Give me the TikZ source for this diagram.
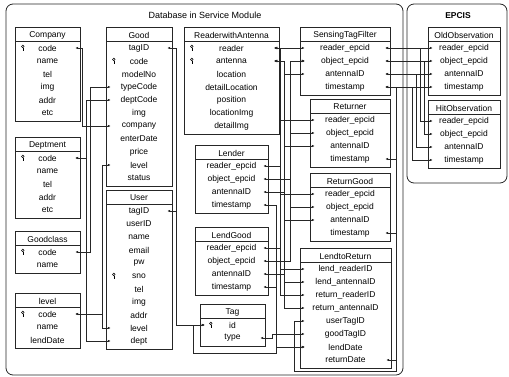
\documentclass[tikz,border=0pt]{standalone}
\usepackage{fontspec}
\setmainfont{Liberation Sans}
\usetikzlibrary{arrows.meta}

\tikzset{
  tblbox/.style={draw=black!85, line width=0.8pt},
  tbltext/.style={font=\fontsize{8.5}{10}\selectfont, inner sep=0pt},
  tblrow/.style={tbltext, minimum height=9pt},
  link/.style={draw=black!85, line width=0.65pt, {Latex[length=3pt,width=2.6pt]}-{Latex[length=3pt,width=2.6pt]}},
  halflink/.style={draw=black!85, line width=0.65pt, {Latex[length=3pt,width=2.6pt]}-},
  frame/.style={draw=black!85, line width=0.8pt, rounded corners=7pt},
  pkey/.pic={
    \draw[line width=0.5pt] (0,-1.6) circle (1.3pt);
    \draw[line width=0.5pt] (0,-0.3) -- (0,3) (0,1.6) -- (1.2,1.6) (0,2.7) -- (1.2,2.7);
  }
}

% table: name, left, right, top, header, rows
\newcommand\dbtable[6]{%
  \node[tbltext] (#1) at ({(#2+#3)/2},#4+8) {#5};
  \foreach \rowtext [count=\i] in {#6} {
    \node[tblrow, minimum width={#3-#2-10}] (#1-\i) at ({(#2+#3)/2},{#4+8+13*\i}) {\rowtext};
    \xdef\tblrows{\i}
  }
  \draw[tblbox] (#2,#4) rectangle (#3,{#4+16+13*\tblrows});
  \draw[tblbox] (#2,#4+14) -- (#3,#4+14);
}

\begin{document}
\begin{tikzpicture}[x=1pt,y=-1pt]
    \useasboundingbox (0,0) rectangle (509,377);
    % frames
    \draw[frame] (6,4) rectangle (403,375);
    \draw[frame] (407,4) rectangle (507,183);
    \node[font=\fontsize{9}{10}\selectfont] (dbtitle) at (205,15) {Database in Service Module};
    \node[font=\bfseries\fontsize{8.5}{10}\selectfont] (epcis) at (458,16) {EPCIS};
    % tables
    \dbtable{company}{15}{80}{27}{Company}{code,name,tel,img,addr,etc}
    \dbtable{deptment}{15}{80}{137}{Deptment}{code,name,tel,addr,etc}
    \dbtable{goodclass}{15}{80}{231}{Goodclass}{code,name}
    \dbtable{level}{15}{80}{293}{level}{code,name,lendDate}
    \dbtable{good}{106}{172}{27}{Good}{tagID,code,modelNo,typeCode,deptCode,img,company,enterDate,price,level,status}
    \dbtable{user}{106}{172}{190}{User}{tagID,userID,name,email,pw,sno,tel,img,addr,level,dept}
    \dbtable{reader}{184}{279}{27}{ReaderwithAntenna}{reader,antenna,location,detailLocation,position,locationImg,detailImg}
    \dbtable{lender}{195}{268}{145}{Lender}{reader\_epcid,object\_epcid,antennaID,timestamp}
    \dbtable{lendgood}{195}{268}{227}{LendGood}{reader\_epcid,object\_epcid,antennaID,timestamp}
    \dbtable{tag}{200}{265}{304}{Tag}{id,type}
    \dbtable{sensing}{300}{390}{27}{SensingTagFilter}{reader\_epcid,object\_epcid,antennaID,timestamp}
    \dbtable{returner}{310}{390}{99}{Returner}{reader\_epcid,object\_epcid,antennaID,timestamp}
    \dbtable{returngood}{310}{390}{173}{ReturnGood}{reader\_epcid,object\_epcid,antennaID,timestamp}
    \dbtable{lendtoreturn}{300}{391}{248}{LendtoReturn}{lend\_readerID,lend\_antennaID,return\_readerID,return\_antennaID,userTagID,goodTagID,lendDate,returnDate}
    \dbtable{oldobs}{428}{500}{27}{OldObservation}{reader\_epcid,object\_epcid,antennaID,timestamp}
    \dbtable{hitobs}{428}{500}{100}{HitObservation}{reader\_epcid,object\_epcid,antennaID,timestamp}
    % keys
    \foreach \k in {company-1,deptment-1,goodclass-1,level-1,good-2,user-6,reader-1,reader-2}
      \pic at ([xshift=3pt]\k.west) {pkey};
    \pic at ([xshift=6pt]tag-1.west) {pkey};
    % bus lines
    \coordinate (cobus) at (82,0);
    \coordinate (depbus) at (86,0);
    \coordinate (clsbus) at (90,0);
    \coordinate (lvlbus) at (102,0);
    \coordinate (tagbus) at (176,0);
    \coordinate (idbus) at (193,0);
    \coordinate (idfoot) at (193,353);
    \coordinate (tybus) at (272,0);
    \coordinate (ldbus) at (276,0);
    \coordinate (rdbus) at (280,0);
    \coordinate (anbus) at (284,0);
    \coordinate (obbus) at (290,0);
    \coordinate (utbus) at (294,0);
    \coordinate (tsbus) at (396,0);
    \coordinate (tsfoot) at (396,371);
    % left column
    \draw[link] (company-1.east) -- (company-1.east -| cobus) |- (good-7.west);
    \foreach \t in {good-5,user-11}
      \draw[link] (deptment-1.east) -- (deptment-1.east -| depbus) |- (\t.west);
    \draw[link] (goodclass-1.east) -- (goodclass-1.east -| clsbus) |- (good-4.west);
    \foreach \t in {good-10,user-10}
      \draw[link] (level-1.east) -- (level-1.east -| lvlbus) |- (\t.west);
    % tag
    \foreach \s in {good-1,user-1}
      \draw[link] (\s.east) -- (\s.east -| tagbus) |- (tag-1.west);
    \draw[link] (tag-1.west) -| (idfoot) -- (idfoot -| ldbus) -- (lendtoreturn-7.west -| ldbus) -- (lendtoreturn-7.west);
    \draw[link] (tag-2.east) -- (tag-2.east -| tybus) |- (lendtoreturn-6.west);
    \foreach \s in {lender-4,lendgood-4}
      \draw[link] (\s.east) -- (\s.east -| ldbus) |- (lendtoreturn-7.west);
    % reader
    \draw[link] (reader-1.east) -- (sensing-1.west);
    \foreach \t in {lender-1.east,lendgood-1.east,returner-1.west,returngood-1.west,lendtoreturn-1.west,lendtoreturn-3.west}
      \draw[link] (reader-1.east) -- (reader-1.east -| rdbus) |- (\t);
    % antenna
    \foreach \t in {sensing-3.west,lender-3.east,lendgood-3.east,returner-3.west,returngood-3.west,lendtoreturn-2.west,lendtoreturn-4.west}
      \draw[link] (reader-2.east) -- (reader-2.east -| anbus) |- (\t);
    % object
    \foreach \t in {lender-2.east,lendgood-2.east,returner-2.west,returngood-2.west}
      \draw[link] (sensing-2.west) -- (sensing-2.west -| obbus) |- (\t);
    % timestamps
    \draw[link] (lendtoreturn-8.east) -- (lendtoreturn-8.east -| tsbus) |- (sensing-4.east);
    \foreach \s in {returner-4,returngood-4}
      \draw[halflink] (\s.east) -- (\s.east -| tsbus);
    \draw[halflink] (lendtoreturn-5.west) -| (utbus |- tsfoot) -- (tsfoot) -- (lendtoreturn-8.east -| tsbus);
    % EPCIS
    \foreach \i/\b in {1/420,2/424,3/416,4/412} {
      \draw[link] (sensing-\i.east) -- (oldobs-\i.west);
      \draw[link] (sensing-\i.east) -- (\b,0 |- sensing-\i.east) |- (hitobs-\i.west);
    }
\end{tikzpicture}
\end{document}
